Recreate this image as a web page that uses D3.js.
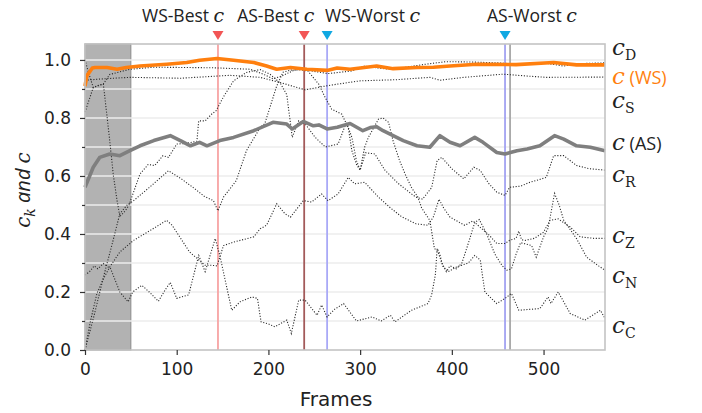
<!DOCTYPE html>
<meta charset="utf-8">
<head>
  <title>c_k and c over frames</title>
</head>
<style>
body { margin: 0; background: #fff; }
text { font-family: "DejaVu Sans", sans-serif; fill: #222; }
.ann { font-family: "Open Sans", sans-serif; font-size: 17.5px; }
.it { font-family: "DejaVu Serif", serif; font-style: italic; }
</style>
<body>
<svg width="702" height="413"></svg>
<script src="https://cdnjs.cloudflare.com/ajax/libs/d3/7.8.5/d3.min.js"></script>
<script>

// series: [frame, value]
var cWS = [[0,0.91],[2,0.945],[8,0.972],[11,0.974],[24,0.974],[35,0.968],[45,0.974],[60,0.979],[89,0.985],[111,0.991],[125,0.999],[144,1.005],[162,0.999],[184,0.991],[198,0.979],[209,0.968],[224,0.974],[242,0.968],[264,0.964],[275,0.972],[289,0.968],[318,0.979],[336,0.97],[362,0.974],[380,0.975],[398,0.979],[427,0.985],[470,0.984],[511,0.991],[536,0.983],[567,0.983]];

var cAS = [[0,0.561],[9,0.63],[16,0.664],[27,0.676],[38,0.67],[49,0.687],[60,0.704],[75,0.722],[93,0.739],[104,0.722],[115,0.704],[125,0.716],[133,0.704],[147,0.722],[162,0.733],[184,0.756],[205,0.785],[220,0.779],[226,0.762],[238,0.788],[249,0.773],[255,0.776],[264,0.762],[275,0.768],[289,0.781],[303,0.756],[311,0.767],[318,0.77],[325,0.756],[347,0.722],[362,0.704],[376,0.699],[387,0.739],[398,0.716],[409,0.704],[425,0.733],[434,0.716],[449,0.681],[458,0.676],[471,0.687],[482,0.693],[496,0.704],[512,0.739],[522,0.727],[536,0.704],[551,0.699],[567,0.687]];

var cD = [[0,0.82],[9,0.905],[20,0.917],[27,0.95],[49,0.968],[76,0.975],[140,0.973],[180,0.968],[195,0.95],[205,0.935],[215,0.945],[228,0.965],[236,0.968],[247,0.962],[265,0.953],[291,0.962],[305,0.979],[320,0.972],[334,0.968],[350,0.975],[371,0.985],[393,0.994],[420,0.993],[450,0.99],[470,0.986],[500,0.99],[522,0.979],[536,0.987],[567,0.99]];

var cS = [[0,0.93],[20,0.935],[49,0.94],[104,0.937],[158,0.947],[191,0.94],[213,0.922],[240,0.897],[262,0.91],[276,0.917],[300,0.928],[340,0.932],[376,0.94],[387,0.93],[413,0.94],[456,0.951],[480,0.945],[503,0.94],[567,0.941]];

var cR = [[0,0],[10,0.12],[20,0.25],[30,0.37],[38,0.47],[46,0.5],[53,0.515],[70,0.56],[91,0.618],[105,0.59],[118,0.56],[130,0.53],[140,0.515],[145,0.48],[151,0.527],[165,0.584],[176,0.687],[191,0.767],[196,0.78],[202,0.84],[209,0.91],[216,0.958],[224,0.965],[235,0.966],[243,0.962],[255,0.916],[262,0.87],[269,0.83],[280,0.813],[287,0.767],[291,0.687],[296,0.64],[300,0.62],[306,0.68],[316,0.676],[327,0.62],[342,0.573],[356,0.538],[361,0.527],[368,0.52],[378,0.56],[384,0.653],[389,0.664],[400,0.625],[413,0.59],[424,0.63],[431,0.619],[440,0.575],[449,0.544],[458,0.533],[463,0.561],[475,0.565],[485,0.578],[503,0.595],[511,0.67],[522,0.67],[536,0.636],[550,0.625],[567,0.62]];

var cZ = [[0,0],[6,0.1],[13,0.195],[20,0.245],[27,0.286],[38,0.338],[53,0.378],[70,0.41],[89,0.447],[95,0.43],[114,0.338],[131,0.292],[138,0.292],[144,0.29],[151,0.36],[162,0.372],[184,0.39],[191,0.418],[198,0.43],[209,0.504],[218,0.47],[224,0.458],[238,0.515],[247,0.51],[258,0.538],[265,0.515],[276,0.538],[287,0.595],[294,0.573],[305,0.578],[320,0.527],[333,0.49],[345,0.46],[361,0.435],[374,0.43],[380,0.46],[386,0.52],[391,0.49],[398,0.458],[414,0.43],[423,0.445],[432,0.42],[441,0.395],[449,0.367],[458,0.367],[463,0.378],[470,0.385],[473,0.41],[476,0.38],[480,0.378],[490,0.385],[500,0.406],[507,0.447],[516,0.452],[529,0.424],[540,0.39],[555,0.385],[567,0.385]];

var cN = [[0,1.0],[4,0.955],[9,0.905],[14,0.912],[20,0.917],[26,0.75],[31,0.6],[35,0.515],[38,0.46],[44,0.48],[48,0.5],[51,0.527],[60,0.607],[69,0.64],[76,0.636],[85,0.67],[91,0.664],[100,0.71],[110,0.712],[122,0.72],[124,0.79],[131,0.79],[138,0.813],[143,0.825],[151,0.873],[162,0.928],[176,0.957],[191,0.967],[202,0.95],[213,0.92],[220,0.88],[226,0.733],[233,0.79],[240,0.78],[251,0.733],[262,0.7],[276,0.71],[285,0.785],[291,0.733],[296,0.653],[300,0.62],[305,0.7],[309,0.733],[320,0.796],[325,0.8],[331,0.785],[336,0.72],[343,0.653],[349,0.607],[356,0.56],[363,0.527],[367,0.49],[376,0.447],[381,0.35],[385,0.338],[389,0.3],[394,0.27],[398,0.29],[405,0.28],[411,0.3],[419,0.378],[425,0.44],[430,0.45],[438,0.4],[447,0.33],[455,0.29],[460,0.275],[465,0.28],[470,0.33],[475,0.37],[487,0.36],[492,0.32],[500,0.39],[505,0.42],[512,0.54],[517,0.5],[522,0.447],[536,0.384],[547,0.32],[560,0.29],[567,0.275]];

var cC = [[0,0.258],[5,0.27],[10,0.29],[14,0.28],[20,0.298],[28,0.28],[33,0.24],[38,0.2],[47,0.166],[52,0.2],[62,0.223],[70,0.2],[80,0.168],[88,0.21],[93,0.233],[100,0.178],[113,0.19],[124,0.326],[131,0.27],[142,0.384],[147,0.326],[160,0.137],[169,0.166],[182,0.183],[188,0.178],[192,0.097],[200,0.09],[207,0.08],[220,0.103],[225,0.057],[233,0.172],[240,0.172],[253,0.12],[258,0.155],[264,0.114],[272,0.14],[282,0.16],[296,0.1],[313,0.114],[323,0.1],[333,0.12],[338,0.097],[356,0.137],[374,0.16],[378,0.19],[382,0.258],[384,0.35],[387,0.33],[390,0.29],[396,0.27],[405,0.286],[418,0.3],[425,0.326],[431,0.31],[436,0.2],[449,0.16],[458,0.178],[465,0.195],[473,0.137],[496,0.143],[505,0.183],[508,0.16],[516,0.2],[529,0.126],[545,0.103],[562,0.137],[567,0.109]];

var warmupEnd = 50;
var markers = [
  {frame: 145, name: "WS-Best", tri: "#f25555", line: "#f7a3a3"},
  {frame: 239, name: "AS-Best", tri: "#f25555", line: "#a35a5a"},
  {frame: 264, name: "WS-Worst", tri: "#10a8e2", line: "#a9a9f7"},
  {frame: 458, name: "AS-Worst", tri: "#10a8e2", line: "#a2a2f2"}
];
var extraLine = {frame: 463.5, color: "#a8a8a8"};
var yTicks = [0, 0.2, 0.4, 0.6, 0.8, 1.0];
var yMinor = [0.1, 0.3, 0.5, 0.7, 0.9];
var xTicks = [0, 100, 200, 300, 400, 500];

var svg = d3.select("svg");
var x = d3.scaleLinear().domain([0, 567]).range([85, 605]);
var y = d3.scaleLinear().domain([0, 1.055]).range([350, 44]);

// warm-up span
svg.append("rect")
  .attr("x", x(0)).attr("y", y(1.055))
  .attr("width", x(warmupEnd) - x(0)).attr("height", y(0) - y(1.055))
  .attr("fill", "#b2b2b2").attr("stroke", "#8c8c8c").attr("stroke-width", 1);

// grid
svg.append("g").selectAll("line")
  .data(yTicks.concat(yMinor).filter(function(d) { return d > 0; }))
  .enter().append("line")
  .attr("x1", x(0)).attr("x2", x(567))
  .attr("y1", function(d) { return y(d); })
  .attr("y2", function(d) { return y(d); })
  .attr("stroke", "#ececec").attr("stroke-width", 1.6);

// marker lines
svg.append("g").selectAll("line")
  .data(markers)
  .enter().append("line")
  .attr("x1", function(d) { return x(d.frame); })
  .attr("x2", function(d) { return x(d.frame); })
  .attr("y1", y(0)).attr("y2", y(1.055))
  .attr("stroke", function(d) { return d.line; })
  .attr("stroke-width", 1.8);
svg.append("line")
  .attr("x1", x(extraLine.frame)).attr("x2", x(extraLine.frame))
  .attr("y1", y(0)).attr("y2", y(1.055))
  .attr("stroke", extraLine.color).attr("stroke-width", 1.8);

var line = d3.line()
  .x(function(d) { return x(d[0]); })
  .y(function(d) { return y(d[1]); });

[cD, cS, cR, cZ, cN, cC].forEach(function(s) {
  svg.append("path").datum(s)
    .attr("d", line)
    .attr("fill", "none")
    .attr("stroke", "#2a2a2a")
    .attr("stroke-width", 1.1)
    .attr("stroke-dasharray", "1.1,1.7");
});

svg.append("path").datum(cAS)
  .attr("d", line).attr("fill", "none")
  .attr("stroke", "#7f7f7f").attr("stroke-width", 3.6)
  .attr("stroke-linejoin", "round");
svg.append("path").datum(cWS)
  .attr("d", line).attr("fill", "none")
  .attr("stroke", "#ff7f0e").attr("stroke-width", 3.6)
  .attr("stroke-linejoin", "round");

// frame
svg.append("rect")
  .attr("x", x(0)).attr("y", y(1.055))
  .attr("width", x(567) - x(0)).attr("height", y(0) - y(1.055))
  .attr("fill", "none").attr("stroke", "#c4c4c4").attr("stroke-width", 1.6);

// axes
var yAxis = svg.append("g").attr("transform", "translate(" + x(0) + ",0)")
  .call(d3.axisLeft(y).tickValues(yTicks).tickFormat(d3.format(".1f")).tickSize(5).tickPadding(9));
var yAxisMinor = svg.append("g").attr("transform", "translate(" + x(0) + ",0)")
  .call(d3.axisLeft(y).tickValues(yMinor).tickFormat("").tickSize(3));
var xAxis = svg.append("g").attr("transform", "translate(0," + y(0) + ")")
  .call(d3.axisBottom(x).tickValues(xTicks).tickSize(5).tickPadding(8));
[yAxis, yAxisMinor, xAxis].forEach(function(g) {
  g.select(".domain").remove();
  g.selectAll(".tick line").attr("stroke", "#333").attr("stroke-width", 1.2);
  g.selectAll(".tick text").attr("font-size", 17).attr("font-family", "DejaVu Sans").attr("fill", "#222");
});

svg.append("text")
  .attr("x", 336).attr("y", 406)
  .attr("text-anchor", "middle")
  .attr("font-size", 20).attr("fill", "#333")
  .text("Frames");

var yl = svg.append("text")
  .attr("transform", "translate(30,190) rotate(-90)")
  .attr("text-anchor", "middle")
  .attr("font-size", 20).attr("fill", "#222");
yl.append("tspan").attr("class", "it").text("c");
yl.append("tspan").attr("class", "it").attr("font-size", 14).attr("dy", 5).text("k");
yl.append("tspan").attr("font-style", "italic").attr("font-family", "Open Sans").attr("dy", -5).text(" and ");
yl.append("tspan").attr("class", "it").text("c");

// top markers
var labelDx = [-76, -67, -2, -18];
markers.forEach(function(m, i) {
  var px = x(m.frame);
  svg.append("path")
    .attr("d", "M" + (px - 5.5) + ",31 L" + (px + 5.5) + ",31 L" + px + ",40 Z")
    .attr("fill", m.tri);
  var t = svg.append("text").attr("class", "ann")
    .attr("x", px + labelDx[i]).attr("y", 22).attr("fill", "#111");
  t.append("tspan").text(m.name + " ");
  t.append("tspan").attr("class", "it").attr("font-size", 19).text("c");
});

// right labels
var rightLabels = [
  {sub: "D", y: 55, color: "#222"},
  {sub: null, tag: "(WS)", y: 84, color: "#ff7f0e"},
  {sub: "S", y: 108, color: "#222"},
  {sub: null, tag: "(AS)", y: 150, color: "#222"},
  {sub: "R", y: 182, color: "#222"},
  {sub: "Z", y: 243, color: "#222"},
  {sub: "N", y: 283, color: "#222"},
  {sub: "C", y: 333, color: "#222"}
];
rightLabels.forEach(function(r) {
  var t = svg.append("text").attr("x", 612).attr("y", r.y).attr("fill", r.color);
  t.append("tspan").attr("class", "it").attr("font-size", 23).attr("fill", r.color).text("c");
  if (r.sub) {
    t.append("tspan").attr("font-family", "DejaVu Serif").attr("font-size", 14)
      .attr("dy", 5).attr("fill", r.color).text(r.sub);
  } else {
    t.append("tspan").attr("font-family", "Open Sans").attr("font-size", 18)
      .attr("fill", r.color).text(" " + r.tag);
  }
});

</script>
</body>
</html>
